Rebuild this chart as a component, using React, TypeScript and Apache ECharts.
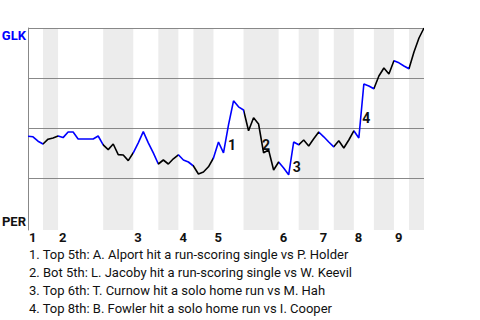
import React, { useEffect, useRef } from "react";
import * as echarts from "echarts";

// GLK win probability after each plate appearance (index = event number)
const winProb = [
  0.459, 0.456, 0.434, 0.42, 0.444, 0.45, 0.46, 0.452, 0.48, 0.48,
  0.445, 0.445, 0.445, 0.445, 0.46, 0.416, 0.392, 0.42, 0.367, 0.365,
  0.337, 0.376, 0.426, 0.482, 0.426, 0.376, 0.32, 0.34, 0.32, 0.346,
  0.366, 0.34, 0.33, 0.31, 0.27, 0.28, 0.306, 0.35, 0.43, 0.376,
  0.516, 0.636, 0.606, 0.59, 0.486, 0.551, 0.52, 0.376, 0.39, 0.29,
  0.33, 0.3, 0.266, 0.43, 0.416, 0.44, 0.41, 0.446, 0.48, 0.456,
  0.43, 0.406, 0.436, 0.4, 0.44, 0.486, 0.45, 0.72, 0.71, 0.696,
  0.76, 0.8, 0.77, 0.836, 0.826, 0.81, 0.796, 0.88, 0.95, 1.0,
];

// event index where each half-inning starts (top 1, bot 1, top 2, ...), plus the end
const halfInningBounds = [0, 3, 6, 15, 21, 26, 30, 33, 37, 43, 50, 54, 58, 61, 65, 69, 73, 76, 79];
const inningStarts = [0, 6, 21, 30, 37, 50, 58, 65, 73];
const inningLabels = ["1", "2", "3", "4", "5", "6", "7", "8", "9"];
const gridLevels = [0.25, 0.5, 0.75, 1];

const annotationLabels = ["1", "2", "3", "4"];
const annotationX = [40.7, 47.5, 53.6, 67.5];
const annotationY = [0.4165, 0.4165, 0.3065, 0.551];

const notes = [
  "1. Top 5th: A. Alport hit a run-scoring single vs P. Holder",
  "2. Bot 5th: L. Jacoby hit a run-scoring single vs W. Keevil",
  "3. Top 6th: T. Curnow hit a solo home run vs M. Hah",
  "4. Top 8th: B. Fowler hit a solo home run vs I. Cooper",
];

const TEAM_TOP = "GLK";
const TEAM_BOTTOM = "PER";
const BLUE = "#0000ff";
const BLACK = "#000000";
const FONT = "Roboto";

export default function App() {
  const ref = useRef<HTMLDivElement>(null);

  useEffect(() => {
    if (!ref.current) return;
    const chart = echarts.init(ref.current, null, { renderer: "svg" });

    const lastIdx = winProb.length - 1;
    const pieces: any[] = [];
    const stripes: any[] = [];
    for (let k = 0; k < halfInningBounds.length - 1; k++) {
      const a = halfInningBounds[k];
      const b = halfInningBounds[k + 1];
      const isTop = k % 2 === 0;
      if (k === halfInningBounds.length - 2) {
        pieces.push({ gte: a, lte: b, color: isTop ? BLUE : BLACK });
      } else {
        pieces.push({ gte: a, lt: b, color: isTop ? BLUE : BLACK });
      }
      if (!isTop) stripes.push([{ xAxis: a }, { xAxis: b }]);
    }

    const noteTexts = notes.map((t, i) => ({
      type: "text",
      x: 29,
      y: 254.5 + i * 18,
      style: {
        text: t,
        fill: "#111",
        font: `13px ${FONT}`,
        verticalAlign: "middle",
        align: "left",
      },
    }));

    chart.setOption({
      animation: false,
      grid: { left: 28, right: 56, top: 28, bottom: 90 },
      xAxis: {
        type: "value",
        min: 0,
        max: lastIdx,
        axisLine: { show: false },
        axisTick: { show: false },
        splitLine: { show: false },
        axisLabel: {
          customValues: inningStarts,
          formatter: (v: number) => inningLabels[inningStarts.indexOf(v)] ?? "",
          align: "left",
          margin: 1,
          fontSize: 13,
          fontWeight: "bold",
          fontFamily: FONT,
          color: "#111",
          padding: [0, 0, 0, 1],
        },
      },
      yAxis: {
        type: "value",
        min: -0.01,
        max: 1,
        axisLine: { show: true, lineStyle: { color: "#888", width: 1 } },
        axisTick: { show: false },
        axisLabel: { show: false },
        splitLine: { show: false },
      },
      visualMap: {
        type: "piecewise",
        show: false,
        dimension: 0,
        seriesIndex: 0,
        pieces,
      },
      graphic: [
        {
          type: "text",
          x: 26,
          y: 35,
          style: {
            text: TEAM_TOP,
            fill: BLUE,
            font: `bold 13px ${FONT}`,
            align: "right",
            verticalAlign: "middle",
          },
        },
        {
          type: "text",
          x: 26,
          y: 221,
          style: {
            text: TEAM_BOTTOM,
            fill: "#111",
            font: `bold 13px ${FONT}`,
            align: "right",
            verticalAlign: "middle",
          },
        },
        ...noteTexts,
      ],
      series: [
        {
          type: "line",
          data: winProb.map((v, i) => [i, v]),
          symbol: "none",
          lineStyle: { width: 1.6 },
          z: 5,
          markPoint: {
            symbol: "circle",
            symbolSize: 1,
            itemStyle: { color: "rgba(0,0,0,0)" },
            label: {
              show: true,
              position: "inside",
              formatter: "{b}",
              color: "#111",
              fontSize: 14,
              fontWeight: "bold",
              fontFamily: FONT,
            },
            data: annotationLabels.map((l, i) => ({
              name: l,
              coord: [annotationX[i], annotationY[i]],
            })),
          },
        },
        {
          type: "line",
          data: winProb.map((v, i) => [i, v]),
          symbol: "none",
          lineStyle: { opacity: 0 },
          silent: true,
          z: 1,
          markArea: {
            silent: true,
            itemStyle: { color: "#ececec" },
            data: stripes,
          },
          markLine: {
            silent: true,
            symbol: "none",
            label: { show: false },
            lineStyle: { color: "#888", width: 1, type: "solid" },
            data: gridLevels.map((v) => ({ yAxis: v })),
          },
        },
      ],
    });

    return () => chart.dispose();
  }, []);

  return <div ref={ref} style={{ width: 480, height: 320, position: "absolute", left: 0, top: 0 }} />;
}
